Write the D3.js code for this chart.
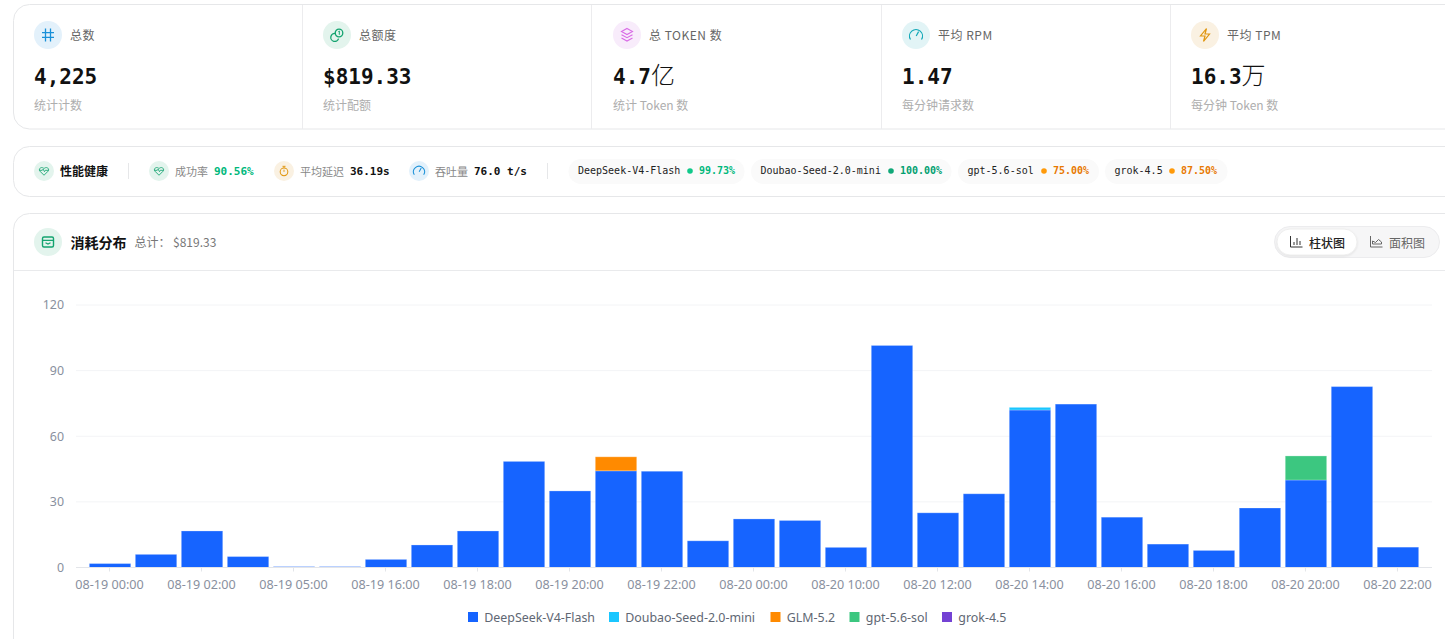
<!DOCTYPE html>
<html><head><meta charset="utf-8">
<script src="https://cdn.jsdelivr.net/npm/d3@7/dist/d3.min.js"></script>
<style>
html,body{margin:0;padding:0;background:#fff;overflow:hidden;width:1445px;height:639px}
svg{display:block}
text{font-family:"Noto Sans CJK SC","Noto Sans",sans-serif}
.mono{font-family:"DejaVu Sans Mono","Noto Sans CJK SC",monospace}
</style></head><body>
<svg id="c" width="1445" height="639"></svg>
<script>
// ---------- data ----------
const categories = ["08-19 00:00","08-19 01:00","08-19 02:00","08-19 04:00","08-19 05:00","08-19 15:00","08-19 16:00","08-19 17:00","08-19 18:00","08-19 19:00","08-19 20:00","08-19 21:00","08-19 22:00","08-19 23:00","08-20 00:00","08-20 09:00","08-20 10:00","08-20 11:00","08-20 12:00","08-20 13:00","08-20 14:00","08-20 15:00","08-20 16:00","08-20 17:00","08-20 18:00","08-20 19:00","08-20 20:00","08-20 21:00","08-20 22:00"];
const seriesNames = ["DeepSeek-V4-Flash","Doubao-Seed-2.0-mini","GLM-5.2","gpt-5.6-sol","grok-4.5"];
const deepseek = [1.8,6,16.7,5,0.4,0.4,3.7,10.3,16.7,48.5,35,44.2,44,12.2,22.2,21.5,9.2,101.5,25,33.7,72,74.7,23,10.7,7.8,27.2,40,82.7,9.3];
const doubao   = [0,0,0,0,0,0,0,0,0,0,0,0,0,0,0,0,0,0,0,0,1.2,0,0,0,0,0,0,0,0];
const glm      = [0,0,0,0,0,0,0,0,0,0,0,6.4,0,0,0,0,0,0,0,0,0,0,0,0,0,0,0,0,0];
const gpt      = [0,0,0,0,0,0,0,0,0,0,0,0,0,0,0,0,0,0,0,0,0,0,0,0,0,0,11,0,0];
const grok     = [0,0,0,0,0,0,0,0,0,0,0,0,0,0,0,0,0,0,0,0,0,0,0,0,0,0,0,0,0];
const yTicks = [0,30,60,90,120];
const stats = [
 {label:"总数",value:"4,225",unit:"",sub:"统计计数"},
 {label:"总额度",value:"$819.33",unit:"",sub:"统计配额"},
 {label:"总 TOKEN 数",value:"4.7",unit:"亿",sub:"统计 Token 数"},
 {label:"平均 RPM",value:"1.47",unit:"",sub:"每分钟请求数"},
 {label:"平均 TPM",value:"16.3",unit:"万",sub:"每分钟 Token 数"}];
const health = [
 {label:"成功率",value:"90.56%"},{label:"平均延迟",value:"36.19s"},{label:"吞吐量",value:"76.0 t/s"}];
const chips = [
 {name:"DeepSeek-V4-Flash",pct:"99.73%"},{name:"Doubao-Seed-2.0-mini",pct:"100.00%"},
 {name:"gpt-5.6-sol",pct:"75.00%"},{name:"grok-4.5",pct:"87.50%"}];

// ---------- styling & layout ----------
const seriesColors = ["#1664ff","#1ac6ff","#ff8a00","#3cc780","#7442d4"];
const statX = [34,323,613,902,1191];
const statDividers = [302.5,591.5,881.5,1170.5];
const statIcon = [
 {bg:"#e3f1fb",fg:"#1990d8"},{bg:"#e3f4ed",fg:"#13a36f"},{bg:"#f8ecfb",fg:"#d96be6"},
 {bg:"#e2f4f6",fg:"#12a8b8"},{bg:"#faf1e2",fg:"#e0960f"}];
const healthX = [149,274,409], healthValX=[214,350,474];
const healthCol = ["#00b87c","#111","#111"];
const healthIcon = [{bg:"#e3f4ed",fg:"#13a36f"},{bg:"#faf1e2",fg:"#e0960f"},{bg:"#e3f1fb",fg:"#1990d8"}];
const chipBox = [[568.5,744.5],[751,951.5],[958,1099],[1105,1227.5]];
const chipDot = [690,891,1044,1172], chipPct=[699,900,1053,1181];
const chipDotCol = ["#10c98a","#10a878","#ff9a0a","#ff9a0a"], chipPctCol=["#00b87c","#00a070","#e87800","#e87800"];
const legendX = [468,609,770.5,849.5,942];

const svg = d3.select("#c");
function card(x,y,w,h,r){svg.append("rect").attr("x",x).attr("y",y).attr("width",w).attr("height",h).attr("rx",r).attr("fill","#fff").attr("stroke","#e6e7e9");}
function txt(p,x,y,s,o={}){const t=p.append("text").attr("x",x).attr("y",y).text(s)
 .attr("font-size",o.size||12).attr("fill",o.fill||"#666").attr("font-weight",o.weight||400);
 if(o.cls)t.attr("class",o.cls); if(o.anchor)t.attr("text-anchor",o.anchor); if(o.ls)t.attr("letter-spacing",o.ls); return t;}
const icons = {
 hash:(g,c)=>{g.append("path").attr("d","M-2.5-6.5-2.5 6.5M2.5-6.5 2.5 6.5M-6-2.3H6M-6 2.3H6").attr("stroke",c).attr("fill","none").attr("stroke-width",1.3);},
 coins:(g,c)=>{g.append("circle").attr("cx",2).attr("cy",-2).attr("r",3.8).attr("stroke",c).attr("fill","none").attr("stroke-width",1.3);
   g.append("path").attr("d","M-1.5-1.5A4 4 0 1 0 1.6 3.6").attr("stroke",c).attr("fill","none").attr("stroke-width",1.3);
   g.append("path").attr("d","M1.4-3.4 2.3-4V-.2").attr("stroke",c).attr("fill","none");},
 layers:(g,c)=>{g.append("path").attr("d","M0-6.5 5.5-3.5 0-.5-5.5-3.5ZM-5.5-.3 0 2.7 5.5-.3M-5.5 3 0 6 5.5 3").attr("stroke",c).attr("fill","none").attr("stroke-width",1.1);},
 gauge:(g,c)=>{g.append("path").attr("d","M-5.5 4.5A6.5 6.5 0 1 1 5.5 4.5M.2 1 2.6-3.4").attr("stroke",c).attr("fill","none").attr("stroke-width",1.2);},
 bolt:(g,c)=>{g.append("path").attr("d","M1.5-6.5-4.5 1H0L-1.5 6.5 4.5-1H0Z").attr("stroke",c).attr("fill","none").attr("stroke-width",1.2);},
 heart:(g,c)=>{g.append("path").attr("d","M0 5-4.8.2C-7-2.4-3.2-6-0-2.8 3.2-6 7-2.4 4.8.2ZM-5.2-.8H-2L-1-2.2.6.8 1.6-.8H5.2").attr("stroke",c).attr("fill","none").attr("stroke-width",1);},
 timer:(g,c)=>{g.append("circle").attr("cy",1).attr("r",4.5).attr("stroke",c).attr("fill","none").attr("stroke-width",1.2);
   g.append("path").attr("d","M-1.8-5.5H1.8M0-5.5V-3.5M0 1V-1.5").attr("stroke",c).attr("fill","none").attr("stroke-width",1.1);},
 box:(g,c)=>{g.append("rect").attr("x",-5.5).attr("y",-5).attr("width",11).attr("height",10).attr("rx",1.5).attr("stroke",c).attr("fill","none").attr("stroke-width",1.4);
   g.append("path").attr("d","M-5.5-1.6H5.5M-2.5.8 0 2 2.5.8").attr("stroke",c).attr("fill","none").attr("stroke-width",1.2);}
};
function badge(cx,cy,r,bg,fg,name){const g=svg.append("g").attr("transform",`translate(${cx},${cy})`);
 g.append("circle").attr("r",r).attr("fill",bg); const i=g.append("g"); if(r<12)i.attr("transform","scale(.85)"); icons[name](i,fg);}

// ---------- stat card ----------
card(13.5,4.5,1480,124.5,16);
statDividers.forEach(x=>svg.append("line").attr("x1",x).attr("x2",x).attr("y1",5).attr("y2",129).attr("stroke","#ececee"));
const statIconNames=["hash","coins","layers","gauge","bolt"];
stats.forEach((s,i)=>{
 const x=statX[i];
 badge(x+14,35,14,statIcon[i].bg,statIcon[i].fg,statIconNames[i]);
 txt(svg,x+36,39.5,s.label,{size:12,fill:"#666",ls:0.5});
 const t=txt(svg,x,84,s.value,{size:21,fill:"#111",weight:700,cls:"mono"});
 if(s.unit)t.append("tspan").text(s.unit).attr("font-size",24).attr("font-weight",300).attr("style",'font-family:"Noto Sans CJK SC"');
 txt(svg,x,110,s.sub,{size:12,fill:"#aeaeae"});
});

// ---------- health card ----------
card(13.5,146.5,1480,50,16);
badge(44,171,10,"#e3f4ed","#13a36f","heart");
txt(svg,60,175.5,"性能健康",{size:12,fill:"#111",weight:700});
[128.5,547.5].forEach(x=>svg.append("line").attr("x1",x).attr("x2",x).attr("y1",163).attr("y2",179).attr("stroke","#e6e7e9"));
const hIcons=["heart","timer","gauge"];
health.forEach((h,i)=>{
 const x=healthX[i];
 badge(x+10,171,10,healthIcon[i].bg,healthIcon[i].fg,hIcons[i]);
 txt(svg,x+26,175.5,h.label,{size:11,fill:"#888"});
 txt(svg,healthValX[i],175,h.value,{size:11,fill:healthCol[i],weight:700,cls:"mono"});
});
chips.forEach((c,i)=>{
 const [a,b]=chipBox[i];
 svg.append("rect").attr("x",a).attr("y",159).attr("width",b-a).attr("height",25).attr("rx",12.5).attr("fill","#fafafa");
 txt(svg,a+9.5,174,c.name,{size:10,fill:"#222",cls:"mono"});
 svg.append("circle").attr("cx",chipDot[i]).attr("cy",171).attr("r",2.8).attr("fill",chipDotCol[i]);
 txt(svg,chipPct[i],174,c.pct,{size:10,fill:chipPctCol[i],weight:700,cls:"mono"});
});

// ---------- chart card ----------
card(13.5,213.5,1480,500,16);
svg.append("line").attr("x1",14).attr("x2",1445).attr("y1",270.5).attr("y2",270.5).attr("stroke","#e9eaec");
badge(48,242,14,"#e3f4ed","#13a36f","box");
txt(svg,70.5,248,"消耗分布",{size:14,fill:"#111",weight:700});
txt(svg,134.5,246.5,"总计：",{size:12,fill:"#777"});
txt(svg,173,246.5,"$819.33",{size:12,fill:"#777"});

svg.append("rect").attr("x",1274.5).attr("y",226.5).attr("width",165).attr("height",31).attr("rx",15.5).attr("fill","#f6f6f7").attr("stroke","#ececee");
svg.append("rect").attr("x",1277).attr("y",229).attr("width",80).attr("height",26).attr("rx",13).attr("fill","#fff").attr("stroke","#eee").style("filter","drop-shadow(0 1px 1px rgba(0,0,0,.08))");
svg.append("path").attr("d","M1290.5 236v11h12M1294 245v-3M1297 245v-7M1300 245v-4").attr("stroke","#333").attr("fill","none");
txt(svg,1309,247.5,"柱状图",{size:12,fill:"#222",weight:500});
svg.append("path").attr("d","M1370.5 236v11h12M1372.5 244v-3l3 1.5 3-3 3 2.5v2Z").attr("stroke","#666").attr("fill","none");
txt(svg,1389,247.5,"面积图",{size:12,fill:"#666"});

// scales
const x = d3.scaleBand().domain(categories).range([76,1432]).paddingInner(0.1).paddingOuter(0.29);
const y = d3.scaleLinear().domain([0,120]).range([567.5,305]);

// grid + y axis
const yAxis = d3.axisLeft(y).tickValues(yTicks).tickSize(0).tickPadding(0);
const gy = svg.append("g").attr("transform","translate(64,0)").call(yAxis);
gy.select(".domain").remove();
gy.selectAll("text").attr("font-size",12.4).attr("fill","#89909e").attr("style",'font-family:"Noto Sans"');
svg.append("g").selectAll("line").data(yTicks.filter(d=>d>0)).join("line")
 .attr("x1",76).attr("x2",1432).attr("y1",d=>y(d)).attr("y2",d=>y(d)).attr("stroke","#f3f4f6");

// bars
const rows = categories.map((c,i)=>{const r={cat:c};[deepseek,doubao,glm,gpt,grok].forEach((a,k)=>r[seriesNames[k]]=a[i]);return r;});
const stacked = d3.stack().keys(seriesNames)(rows);
svg.append("g").selectAll("g").data(stacked).join("g").attr("fill",(d,i)=>seriesColors[i])
 .selectAll("rect").data(d=>d.filter(s=>s[1]-s[0]>0)).join("rect")
 .attr("x",d=>x(d.data.cat)).attr("width",x.bandwidth())
 .attr("y",d=>y(d[1])).attr("height",d=>y(d[0])-y(d[1]))
 .attr("stroke","rgba(255,255,255,.25)").attr("stroke-width",1);

// x axis
const xAxis = d3.axisBottom(x).tickValues(categories.filter((c,i)=>i%2===0)).tickSize(4).tickPadding(9);
const gx = svg.append("g").attr("transform","translate(-0.5,567.5)").call(xAxis);
gx.select(".domain").attr("stroke","#e3e5e9").attr("d","M76.5,0H1432.5");
gx.selectAll(".tick line").attr("stroke","#e3e5e9");
gx.selectAll("text").attr("font-size",12.6).attr("fill","#89909e").attr("style",'font-family:"Noto Sans"');

// legend
const lg = svg.append("g").selectAll("g").data(seriesNames).join("g").attr("transform",(d,i)=>`translate(${legendX[i]},612)`);
lg.append("rect").attr("width",10).attr("height",10).attr("fill",(d,i)=>seriesColors[i]);
lg.append("text").attr("x",16.3).attr("y",9.8).text(d=>d).attr("font-size",12.4).attr("fill","#606773").attr("style",'font-family:"Noto Sans"');
</script></body></html>
